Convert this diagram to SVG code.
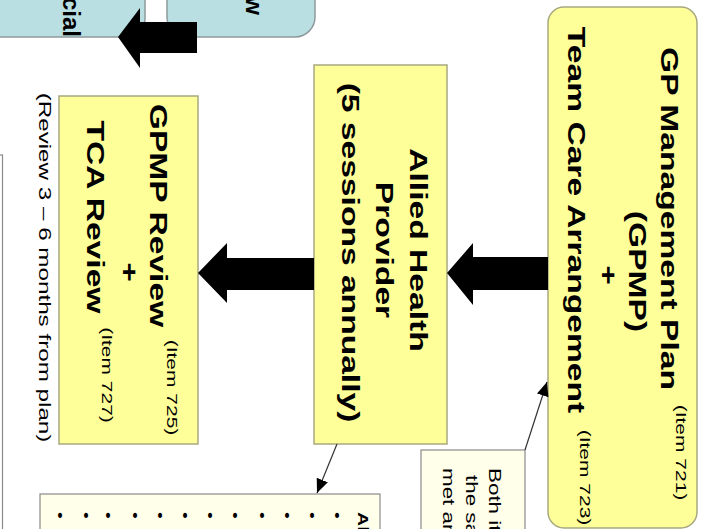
<svg xmlns="http://www.w3.org/2000/svg" width="701" height="529" viewBox="0 0 701 529">
<style>
.box{fill:#FFFF99;stroke:#A8A880;stroke-width:1.5}
.blue{fill:#B9DFE3;stroke:#8E9A9C;stroke-width:1.5}
.note{fill:#FFFFEA;stroke:#8A8A8A;stroke-width:1.2}
.edge{fill:#FFFFFF;stroke:#8A8A8A;stroke-width:1.2}
.fat{fill:#000000}
.thin{fill:none;stroke:#333333;stroke-width:1.2;marker-end:url(#ah)}
text{font-family:"Liberation Sans",Arial,Helvetica,sans-serif;fill:#000000}
.b{font-weight:bold;font-size:24px;text-anchor:middle}
.s{font-size:15px;text-anchor:middle}
.r{font-size:17.3px;text-anchor:middle}
.n{font-size:16px;text-anchor:start}
.l{font-size:14px;text-anchor:start}
.lb{font-size:14px;font-weight:bold;text-anchor:start}
</style>
<defs>
<marker id="ah" markerUnits="userSpaceOnUse" markerWidth="16" markerHeight="12" refX="14" refY="6" orient="auto">
<path d="M0,0 L14,6 L0,12 Z" fill="#000000"/>
</marker>
</defs>

<g id="left-edge-box"><rect class="edge" x="-60" y="155" width="62.5" height="420"/></g>

<g id="blue-box-left">
<rect class="blue" x="-40" y="-60" width="185" height="97" rx="18"/>
<text class="b" style="text-anchor:end" transform="translate(62.5,37) rotate(90)">cial</text>
</g>
<g id="blue-box-right">
<rect class="blue" x="167" y="-60" width="148" height="97" rx="20"/>
<text class="b" style="text-anchor:end" transform="translate(245.5,15) rotate(90)">w</text>
</g>

<g id="gp-plan">
<rect class="box" x="548" y="7" width="149" height="521" rx="16"/>
<text class="b" transform="translate(661,218.5) rotate(90) scale(1.4,1)">GP Management Plan</text>
<text class="s" transform="translate(676,452.5) rotate(90) scale(1.4,1)">(Item 721)</text>
<text class="b" transform="translate(629,271.5) rotate(90) scale(1.4,1)">(GPMP)</text>
<text class="b" transform="translate(600,275) rotate(90) scale(1.4,1)">+</text>
<text class="b" transform="translate(568,220) rotate(90) scale(1.4,1)">Team Care Arrangement</text>
<text class="s" transform="translate(580,477.5) rotate(90) scale(1.4,1)">(Item 723)</text>
</g>

<g id="allied-health">
<rect class="box" x="314" y="65" width="133" height="379"/>
<text class="b" transform="translate(410,250) rotate(90) scale(1.4,1)">Allied Health</text>
<text class="b" transform="translate(376,250) rotate(90) scale(1.4,1)">Provider</text>
<text class="b" transform="translate(342,252.5) rotate(90) scale(1.4,1)">(5 sessions annually)</text>
</g>

<g id="gpmp-review">
<rect class="box" x="59" y="96" width="139" height="348"/>
<text class="b" transform="translate(150,215.5) rotate(90) scale(1.4,1)">GPMP Review</text>
<text class="s" transform="translate(167,387.5) rotate(90) scale(1.4,1)">(Item 725)</text>
<text class="b" transform="translate(121,272) rotate(90) scale(1.4,1)">+</text>
<text class="b" transform="translate(87,217) rotate(90) scale(1.4,1)">TCA Review</text>
<text class="s" transform="translate(102,375) rotate(90) scale(1.4,1)">(Item 727)</text>
</g>

<g id="review-note">
<text class="r" transform="translate(39,267.5) rotate(90) scale(1.4,1)">(Review 3 – 6 months from plan)</text>
</g>

<g id="callout">
<rect class="note" x="421" y="450" width="104" height="110"/>
<text class="n" transform="translate(489,468) rotate(90) scale(1.4,1)">Both it</text>
<text class="n" transform="translate(466,475) rotate(90) scale(1.4,1)">the sa</text>
<text class="n" transform="translate(443,468) rotate(90) scale(1.4,1)">met an</text>
</g>

<g id="list-box">
<rect class="note" x="40" y="494" width="340" height="70"/>
<text class="lb" transform="translate(358,512) rotate(90) scale(1.4,1)">Al</text>
<text class="l" transform="translate(332.4,512) rotate(90) scale(1.4,1)">•</text>
<text class="l" transform="translate(307.4,512) rotate(90) scale(1.4,1)">•</text>
<text class="l" transform="translate(282.4,512) rotate(90) scale(1.4,1)">•</text>
<text class="l" transform="translate(257.4,512) rotate(90) scale(1.4,1)">•</text>
<text class="l" transform="translate(230.4,512) rotate(90) scale(1.4,1)">•</text>
<text class="l" transform="translate(205.4,512) rotate(90) scale(1.4,1)">•</text>
<text class="l" transform="translate(180.4,512) rotate(90) scale(1.4,1)">•</text>
<text class="l" transform="translate(155.4,512) rotate(90) scale(1.4,1)">•</text>
<text class="l" transform="translate(130.4,512) rotate(90) scale(1.4,1)">•</text>
<text class="l" transform="translate(103.4,512) rotate(90) scale(1.4,1)">•</text>
<text class="l" transform="translate(81.4,512) rotate(90) scale(1.4,1)">•</text>
<text class="l" transform="translate(55.4,512) rotate(90) scale(1.4,1)">•</text>
</g>

<g id="connectors">
<polygon class="fat" points="447,273 473,243 473,257 548,257 548,290 473,290 473,305"/>
<polygon class="fat" points="198,273 227,243 227,258 314,258 314,290 227,290 227,303"/>
<polygon class="fat" points="118,37 140,8 140,22 197,22 197,53 140,53 140,68"/>
<line class="thin" x1="525" y1="450" x2="547" y2="382"/>
<line class="thin" x1="337" y1="444" x2="317" y2="493"/>
</g>
</svg>
